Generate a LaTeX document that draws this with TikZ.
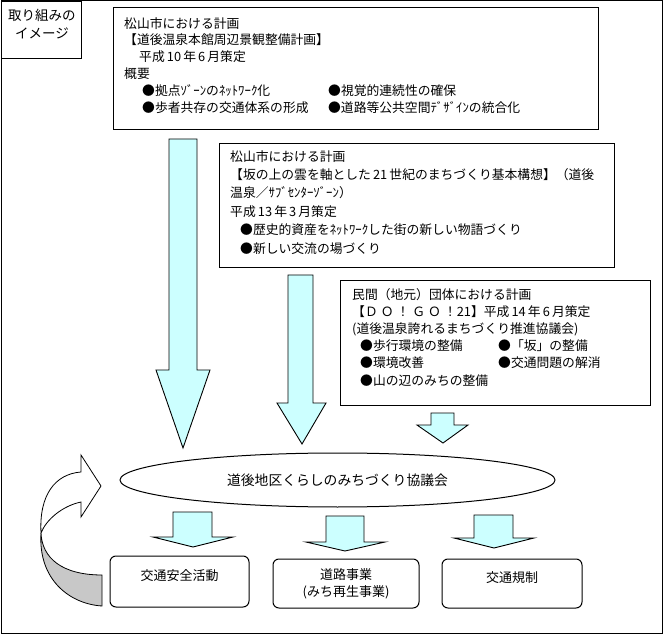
\documentclass[tikz,border=0pt]{standalone}
\usepackage{fontspec}
\setmainfont{Noto Sans CJK JP}
\usepackage{tikz}
\usetikzlibrary{shapes.geometric}
\definecolor{paleblue}{HTML}{CCFFFF}
\definecolor{shade}{HTML}{C8C8C8}

\begin{document}
\begin{tikzpicture}[x=1pt,y=-1pt,
  planbox/.style={draw,line width=1pt,anchor=north west,inner sep=0pt},
  plantext/.style={anchor=north west,inner sep=0pt,align=left,font=\fontsize{12.8pt}{#1}\selectfont},
  blockarrow/.style={draw,fill=paleblue,line width=0.9pt,line join=miter},
  actbox/.style={draw,line width=1pt,rounded corners=6pt,align=center,font=\fontsize{13pt}{17pt}\selectfont},
  lifted/.style={text height=9pt,text depth=11pt}]
  \useasboundingbox (0,0) rectangle (667,636);
  \draw[line width=1pt] (1,1) rectangle (662,633);
  % title tag
  \node[planbox,minimum width=80pt,minimum height=57pt] (tag) at (1,1) {};
  \node[align=center,inner sep=0pt,font=\fontsize{13.5pt}{18pt}\selectfont] (tagtext) at (42,24) {取り組みの\\イメージ};
  % plans
  \node[planbox,minimum width=485pt,minimum height=122pt] (plan1) at (113,7) {};
  \node[plantext=16.8pt] (plan1text) at (124,17) {松山市における計画\\
    【道後温泉本館周辺景観整備計画】\\
    \hspace*{15pt}平成\,10\,年\,6\,月策定\\
    概要\\
    \hspace*{18pt}\makebox[186pt][l]{●拠点ｿﾞｰﾝのﾈｯﾄﾜｰｸ化}●視覚的連続性の確保\\
    \hspace*{18pt}\makebox[186pt][l]{●歩者共存の交通体系の形成}●道路等公共空間ﾃﾞｻﾞｲﾝの統合化};
  \node[planbox,minimum width=395pt,minimum height=124pt] (plan2) at (219,143) {};
  \node[plantext=18.4pt] (plan2text) at (230,150) {松山市における計画\\
    【坂の上の雲を軸とした\,21\,世紀のまちづくり基本構想】（道後\\
    温泉／ｻﾌﾞｾﾝﾀｰｿﾞｰﾝ）\\
    平成\,13\,年\,3\,月策定\\
    \hspace*{10pt}●歴史的資産をﾈｯﾄﾜｰｸした街の新しい物語づくり\\
    \hspace*{10pt}●新しい交流の場づくり};
  \node[planbox,minimum width=310pt,minimum height=125pt] (plan3) at (340,280) {};
  \node[plantext=17.2pt] (plan3text) at (352,288) {民間（地元）団体における計画\\
    【Ｄ\kern3ptＯ\kern3pt！\kern3ptＧ\kern3ptＯ\kern3pt！21】平成\,14\,年\,6\,月策定\\
    (道後温泉誇れるまちづくり推進協議会)\\
    \hspace*{8pt}\makebox[138pt][l]{●歩行環境の整備}●「坂」の整備\\
    \hspace*{8pt}\makebox[138pt][l]{●環境改善}●交通問題の解消\\
    \hspace*{8pt}●山の辺のみちの整備};
  % arrows into the council
  \draw[blockarrow] (169,139) -- (169,370) -- (156,370) -- (183,448) -- (210,370) -- (197,370) -- (197,139) -- cycle;
  \draw[blockarrow] (288,275) -- (288,403) -- (277,403) -- (302,444) -- (326,403) -- (313,403) -- (313,275) -- cycle;
  \draw[blockarrow] (431,413) -- (431,425) -- (417,425) -- (443,443) -- (468,425) -- (454,425) -- (454,413) -- cycle;
  \node[ellipse,draw,line width=1pt,minimum width=435pt,minimum height=54pt,font=\fontsize{13.8pt}{16pt}\selectfont] (council) at (337.5,480) {道後地区くらしのみちづくり協議会};
  % arrows out of the council
  \draw[blockarrow] (173,512) -- (173,537) -- (153,537) -- (193,547) -- (233,537) -- (212,537) -- (212,512) -- cycle;
  \draw[blockarrow] (326,516) -- (326,542) -- (306,542) -- (345,551) -- (385,542) -- (364,542) -- (364,516) -- cycle;
  \draw[blockarrow] (474,515) -- (474,538) -- (454,538) -- (494,548) -- (534,538) -- (513,538) -- (513,515) -- cycle;
  \node[actbox,lifted,minimum width=139pt,minimum height=51pt] (safety) at (179.5,581.5) {交通安全活動};
  \node[actbox,minimum width=146pt,minimum height=49pt] (road) at (346,583.5) {道路事業\\(みち再生事業)};
  \node[actbox,lifted,minimum width=140pt,minimum height=49pt] (rules) at (512,583.5) {交通規制};
  % feedback arrow
  \draw[line width=0.8pt,fill=shade] (41,533) .. controls (38,580) and (70,604) .. (102,606) -- (102,575) .. controls (62,575) and (42,558) .. (41,533) -- cycle;
  \draw[line width=0.8pt,fill=white] (41,533) .. controls (39,495) and (55,474) .. (81,472) -- (81,455) -- (101,486) -- (81,517) -- (81,502) .. controls (62,506) and (46,520) .. (41,533) -- cycle;
\end{tikzpicture}
\end{document}
